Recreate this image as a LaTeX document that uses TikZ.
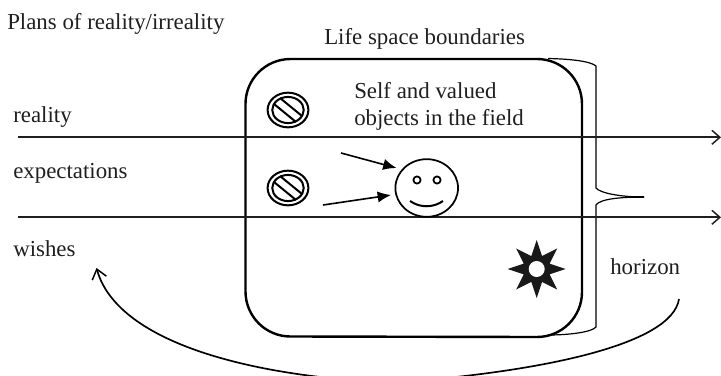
\documentclass[tikz,border=0pt]{standalone}
\usepackage{fontspec}
\setmainfont{Liberation Serif}
\usetikzlibrary{arrows.meta}
\tikzset{
  label/.style={inner sep=0pt,anchor=base west,font=\fontsize{17.15}{20}\selectfont,text=black!88},
  axisline/.style={line width=1.25pt,black!88,-{Straight Barb[length=6pt,width=10.5pt,line width=1.1pt]}},
  pointer/.style={line width=1.2pt,-{Latex[length=10pt,width=8.5pt]}},
  thinline/.style={line width=0.9pt},
  thickline/.style={line width=1.8pt},
}
\begin{document}
\begin{tikzpicture}[x=0.75pt,y=-0.75pt]
\useasboundingbox (0,0) rectangle (721,375);
\node[label] (t1) at (7,29) {Plans of reality/irreality};
\node[label] (t2) at (324,44) {Life space boundaries};
\node[label] (t3) at (354,98) {Self and valued};
\node[label] (t4) at (354,125) {objects in the field};
\node[label] (t5) at (13,122) {reality};
\node[label] (t6) at (13,178) {expectations};
\node[label] (t7) at (13,256) {wishes};
\node[label] (t8) at (610,274) {horizon};
% life space box
\draw[thickline] (245.5,104) arc[start angle=180,end angle=90,radius=33.75pt] -- (537,59)
  arc[start angle=90,end angle=0,radius=33.75pt] -- (582,292)
  arc[start angle=0,end angle=-90,radius=33.75pt] -- (290.5,336.5)
  arc[start angle=270,end angle=180,radius=33.75pt] -- cycle;
% brace
\draw[thinline] (548,58.5) .. controls (570,59) and (590,61) .. (596,66) -- (596,188)
  .. controls (600,193) and (620,197) .. (644,197);
\draw[thinline] (644,197) .. controls (620,197) and (600,199) .. (596,205) -- (596,327)
  .. controls (592,332) and (570,335) .. (548,335);
\draw[line width=1.4pt] (625,197) -- (644,197);
% plan lines
\coordinate (r0) at (18,137.3); \coordinate (r1) at (721,137.3);
\coordinate (e0) at (18,217.3); \coordinate (e1) at (721,217.3);
\draw[axisline] (r0) -- (r1);
\draw[axisline] (e0) -- (e1);
% signs
\foreach \cy in {110,188}{
  \draw[line width=1.5pt] (288,\cy) ellipse[x radius=15.3pt,y radius=13pt];
  \draw[line width=1.5pt] (288,\cy) ellipse[x radius=11.8pt,y radius=9.8pt];
  \draw[line width=1.5pt] (274,\cy-6) -- (296,\cy+12);
  \draw[line width=1.5pt] (280,\cy-12) -- (302,\cy+6);
}
% smiley
\node[draw,circle,line width=1.3pt,inner sep=0pt,minimum width=47pt,minimum height=47pt,
  yscale=0.92] (face) at (426.7,188) {};
\draw[line width=1.3pt] (417,180) circle[radius=2.7pt];
\draw[line width=1.3pt] (437,180) circle[radius=2.7pt];
\draw[line width=1.5pt] (410,201) .. controls (420,208) and (433,208) .. (443,201);
\coordinate (p1) at (341,153); \coordinate (q1) at (396.5,168);
\coordinate (p2) at (323,205); \coordinate (q2) at (391,195);
\draw[pointer] (p1) -- (q1);
\draw[pointer] (p2) -- (q2);
% star
\fill[black!90] (536.7,269)
  ++(0:29) \foreach \i in {0,...,7}{
    -- ({536.7+14*cos(\i*45+22.5)},{269+14*sin(\i*45+22.5)})
    -- ({536.7+29*cos(\i*45+45)},{269+29*sin(\i*45+45)})
  } -- cycle;
\fill[white] (536.7,269) circle[radius=6pt];
% horizon arc
\coordinate (h0) at (679,299); \coordinate (h1) at (395,382.5); \coordinate (h2) at (96.5,268);
\draw[line width=1.25pt] (h0) .. controls (672,345) and (540,372) .. (h1);
\draw[line width=1.25pt,-{Straight Barb[length=7pt,width=11pt,line width=1.1pt]}] (h1) .. controls (260,378) and (118,345) .. (h2);
\end{tikzpicture}
\end{document}
